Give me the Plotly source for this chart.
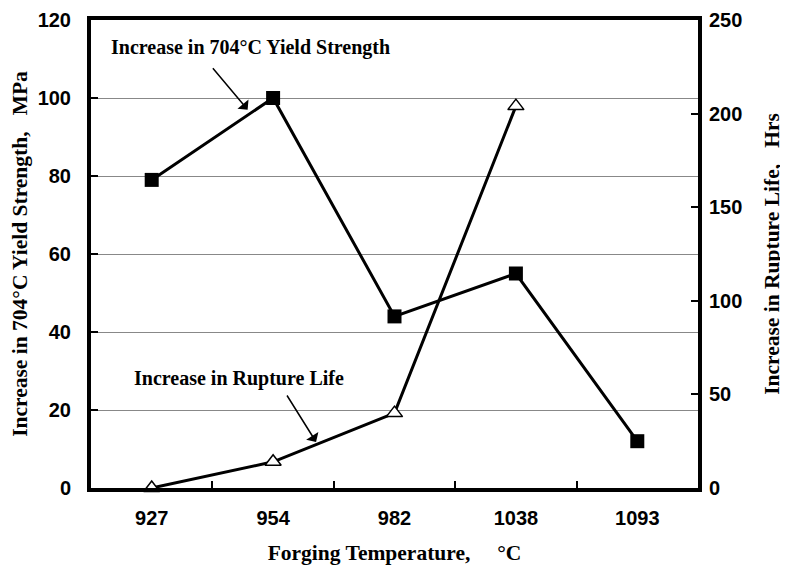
import plotly.graph_objects as go

temps = ["927", "954", "982", "1038", "1093"]
yield_mpa = [79, 100, 44, 55, 12]
rupture_hrs = [0, 14, 40, 204]

SERIF = "Liberation Serif, Times New Roman, serif"
SANS = "Liberation Sans, Arial, sans-serif"
NB = "\u00a0"

fig = go.Figure()
fig.add_trace(go.Scatter(
    x=temps, y=yield_mpa, mode="lines+markers",
    line=dict(color="black", width=3),
    marker=dict(symbol="square", size=14, color="black"),
    showlegend=False,
))
fig.add_trace(go.Scatter(
    x=temps[:len(rupture_hrs)], y=rupture_hrs, mode="lines+markers", yaxis="y2",
    line=dict(color="black", width=3),
    marker=dict(symbol="triangle-up", size=14, color="white",
                line=dict(color="black", width=1.5)),
    showlegend=False,
    cliponaxis=False,
))

label_font = dict(family=SERIF, size=20, color="black", weight="bold")
fig.add_annotation(x=0.81, y=113.0, text="Increase in 704°C Yield Strength",
                   showarrow=False, font=label_font)
fig.add_annotation(x=0.79, y=97, ax=-36, ay=-43, text="", showarrow=True,
                   arrowhead=1, arrowsize=1.6, arrowwidth=1.5, arrowcolor="black")
fig.add_annotation(x=0.72, y=28.2, text="Increase in Rupture Life",
                   showarrow=False, font=label_font)
fig.add_annotation(x=1.354, y=11.8, ax=-30, ay=-48, text="", showarrow=True,
                   arrowhead=1, arrowsize=1.6, arrowwidth=1.5, arrowcolor="black")

tick_font = dict(family=SANS, size=20, color="black", weight="bold")
title_font = dict(family=SERIF, size=21.5, color="black", weight="bold")

# page body has an 8px margin, so the plot area is shifted up/left by 8px
fig.update_layout(
    width=788, height=565,
    margin=dict(l=83, r=98, t=12, b=85),
    plot_bgcolor="white", paper_bgcolor="white",
    xaxis=dict(
        type="category", range=[-0.5, 4.5], automargin=False,
        tickson="boundaries", ticks="inside", ticklen=7, tickwidth=2, tickcolor="black",
        showgrid=False, showline=True, linewidth=4, linecolor="black", mirror=True,
        tickfont=tick_font, ticklabelstandoff=9,
        title=dict(text=f"Forging Temperature,{NB*5}°C", font=title_font, standoff=18),
    ),
    yaxis=dict(
        range=[0, 120], dtick=20, automargin=False,
        ticks="inside", ticklen=7, tickwidth=2, tickcolor="black",
        showgrid=True, gridcolor="#888888", gridwidth=1, zeroline=False,
        showline=True, linewidth=4, linecolor="black", mirror=True,
        tickfont=tick_font, ticklabelstandoff=12,
        title=dict(text=f"Increase in 704°C Yield Strength,{NB*3}MPa", font=title_font, standoff=8),
    ),
    yaxis2=dict(
        range=[0, 250], dtick=50, overlaying="y", side="right", automargin=False,
        ticks="inside", ticklen=7, tickwidth=2, tickcolor="black",
        showgrid=False, zeroline=False, showline=False,
        tickfont=tick_font, ticklabelstandoff=10,
        title=dict(text=f"Increase in Rupture Life,{NB*3}Hrs", font=title_font, standoff=22),
    ),
)

fig.write_html("out.html")
